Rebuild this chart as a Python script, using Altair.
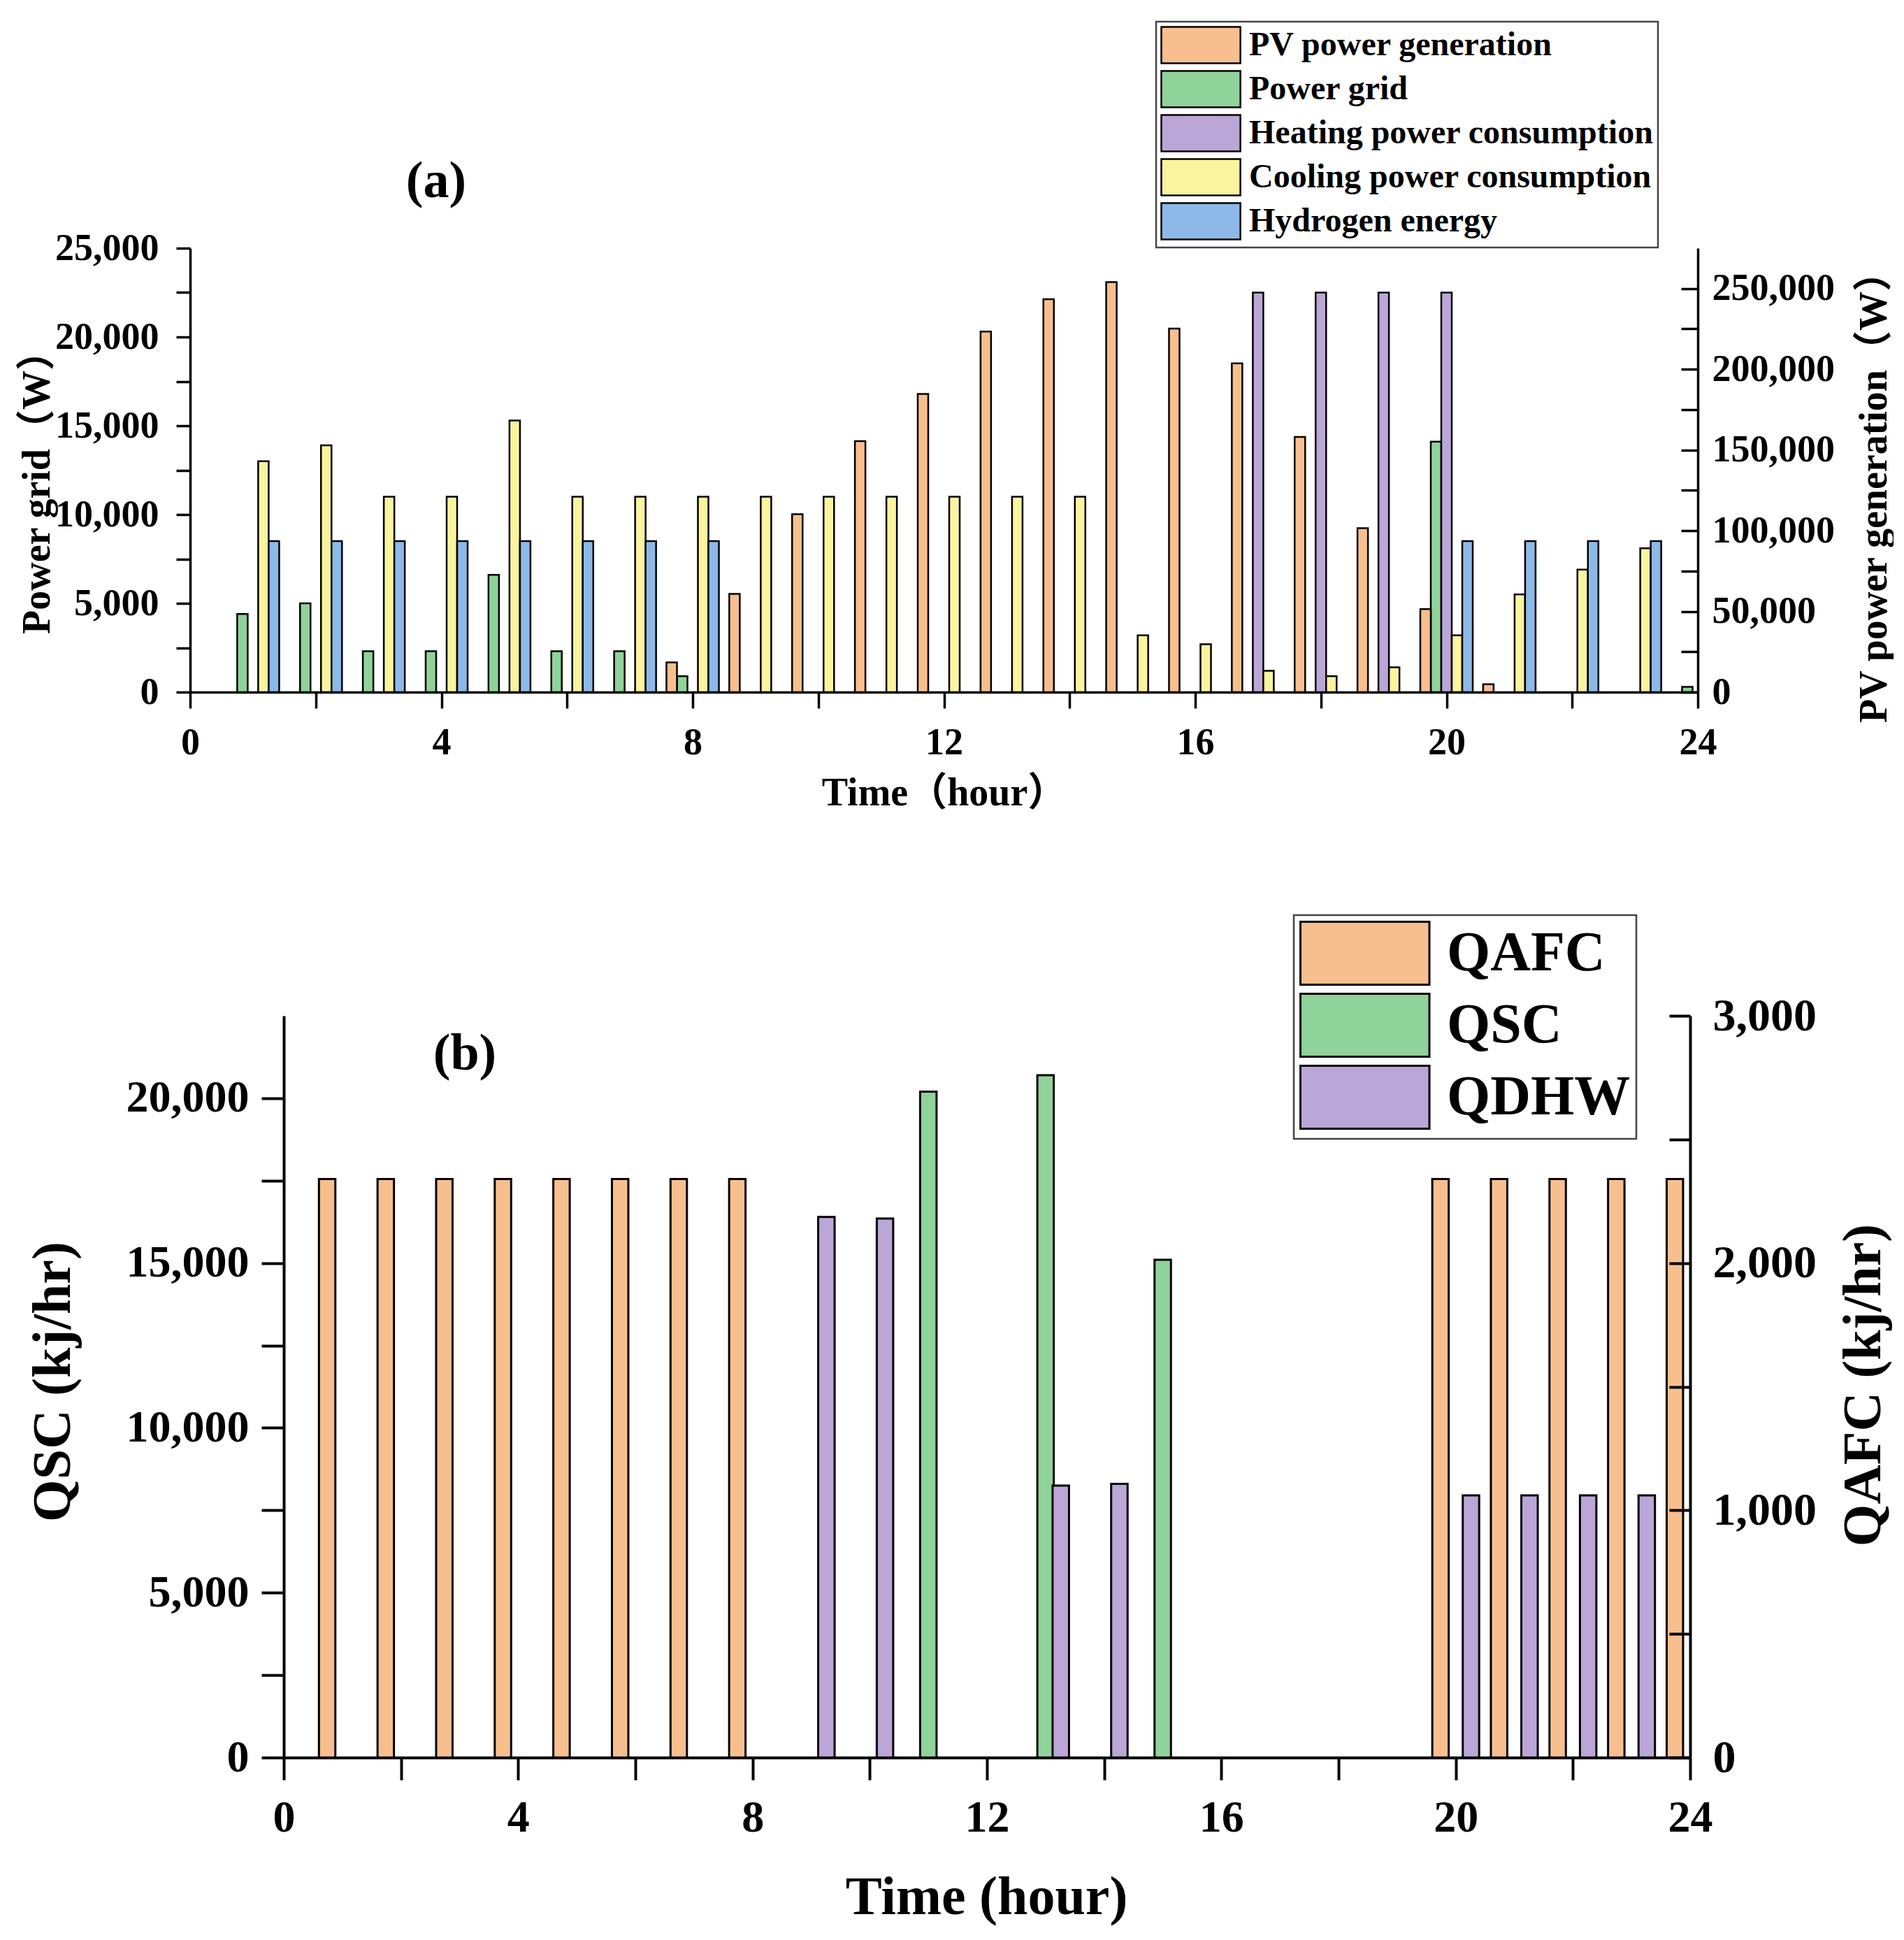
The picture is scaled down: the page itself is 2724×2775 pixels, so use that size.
import altair as alt
import pandas as pd

# ---------------- data ----------------
HOURS = list(range(1, 25))

SERIES_A = ["PV power generation", "Power grid", "Heating power consumption",
            "Cooling power consumption", "Hydrogen energy"]
COLORS_A = ["#F8BF8E", "#8FD39B", "#BBA7D7", "#F9F49D", "#8DB9E9"]

PV_POWER = [0, 0, 0, 0, 0, 0, 0, 18400, 60800, 110200, 155500, 184700,
            223400, 243400, 254000, 225200, 203700, 158100, 101600, 51400, 4900, 0, 0, 0]
POWER_GRID = [4400, 5000, 2300, 2300, 6600, 2300, 2300, 900, 0, 0, 0, 0,
              0, 0, 0, 0, 0, 0, 0, 14100, 0, 0, 0, 300]
HEATING = [0, 0, 0, 0, 0, 0, 0, 0, 0, 0, 0, 0,
           0, 0, 0, 0, 22500, 22500, 22500, 22500, 0, 0, 0, 0]
COOLING = [13000, 13900, 11000, 11000, 15300, 11000, 11000, 11000, 11000, 11000, 11000, 11000,
           11000, 11000, 3200, 2700, 1200, 900, 1400, 3200, 5500, 6900, 8100, 0]
HYDROGEN = [8500, 8500, 8500, 8500, 8500, 8500, 8500, 8500, 0, 0, 0, 0,
            0, 0, 0, 0, 0, 0, 0, 8500, 8500, 8500, 8500, 0]

SERIES_B = ["QAFC", "QSC", "QDHW"]
COLORS_B = ["#F8BF8E", "#8FD39B", "#BBA7D7"]

QAFC = [2340, 2340, 2340, 2340, 2340, 2340, 2340, 2340, 0, 0, 0, 0,
        0, 0, 0, 0, 0, 0, 0, 2340, 2340, 2340, 2340, 2340]
QSC = [0, 0, 0, 0, 0, 0, 0, 0, 0, 0, 20200, 0,
       20700, 0, 15100, 0, 0, 0, 0, 0, 0, 0, 0, 0]
QDHW = [0, 0, 0, 0, 0, 0, 0, 0, 16400, 16350, 0, 0,
        8250, 8300, 0, 0, 0, 0, 0, 7950, 7950, 7950, 7950, 0]

LABEL_A = ["(a)"]
LABEL_B = ["(b)"]

# ---------------- tables ----------------
def long_table(series_names, columns):
    rows = []
    for slot, (name, vals) in enumerate(zip(series_names, columns)):
        for h, v in zip(HOURS, vals):
            rows.append({"hour": h, "series": name, "value": v, "slot": slot})
    return pd.DataFrame(rows)

df_a = long_table(SERIES_A, [PV_POWER, POWER_GRID, HEATING, COOLING, HYDROGEN])
df_b = long_table(SERIES_B, [QAFC, QSC, QDHW])

FONT = "Liberation Serif, Noto Sans CJK SC, serif"


def x_axis(tick, lab_size, lab_pad, title, title_size, title_y, dw, title_x=None):
    kw = {}
    if title_x is not None:
        kw["titleX"] = title_x
    return alt.Axis(values=list(range(0, 25, 2)),
                    labelExpr="datum.value % 4 == 0 ? datum.label : ''",
                    tickSize=tick, tickWidth=dw, tickColor="black",
                    domainColor="black", domainWidth=dw,
                    labelFont=FONT, labelFontSize=lab_size, labelFontWeight="bold",
                    labelColor="black", labelPadding=lab_pad, labelOverlap=False,
                    labelFlush=False,
                    title=title, titleFont=FONT, titleFontSize=title_size,
                    titleFontWeight="bold", titleColor="black",
                    titleY=title_y, titleBaseline="middle", grid=False, **kw)


def fmt_expr(step):
    return f"datum.value % {step} == 0 ? format(datum.value, ',') : ''"

# ---------------- panel (a) ----------------
W_A = 0.167      # bar width in hours
WA_PX, HA_PX = 2157, 635

xs_a = alt.Scale(domain=[0, 24], nice=False, zero=False)

base_a = (alt.Chart(df_a)
          .transform_filter("datum.value > 0")
          .transform_calculate(x0=f"datum.hour + (datum.slot - 2) * {W_A} - {W_A / 2}",
                               x1=f"datum.hour + (datum.slot - 2) * {W_A} + {W_A / 2}"))

xa = alt.X("x0:Q", scale=xs_a, axis=x_axis(23, 54, 22, "Time（hour）", 56, 144, 3.5))

legend_a = alt.Legend(orient="none", legendX=1382, legendY=-324, direction="vertical",
                      title=None, symbolType="M-1,-1H3.35V1H-1Z", symbolSize=52 * 52,
                      symbolStrokeColor="black", symbolStrokeWidth=2.5, symbolOpacity=1,
                      labelFont=FONT, labelFontSize=48, labelFontWeight="bold",
                      labelColor="black", labelLimit=2000, labelOffset=72,
                      rowPadding=0, padding=6, strokeColor="#444", fillColor="white")
color_a = alt.Color("series:N", scale=alt.Scale(domain=SERIES_A, range=COLORS_A),
                    legend=legend_a)

left_axis_a = alt.Axis(orient="left", values=list(range(0, 25001, 2500)),
                       labelExpr=fmt_expr(5000),
                       tickSize=20, tickWidth=3.5, tickColor="black",
                       domainColor="black", domainWidth=3.5,
                       labelFont=FONT, labelFontSize=54, labelFontWeight="bold",
                       labelColor="black", labelPadding=25,
                       title="Power grid（W）", titleFont=FONT, titleFontSize=56,
                       titleFontWeight="bold", titleColor="black", titleAngle=270,
                       titleX=-219, titleY=335, titleAlign="center", titleBaseline="middle",
                       grid=False)
right_axis_a = alt.Axis(orient="right", values=list(range(0, 250001, 50000)),
                        labelExpr=fmt_expr(50000),
                        ticks=False, domainColor="black", domainWidth=3.5,
                        labelFont=FONT, labelFontSize=54, labelFontWeight="bold",
                        labelColor="black", labelPadding=20,
                        title="PV power generation（W）", titleFont=FONT, titleFontSize=56,
                        titleFontWeight="bold", titleColor="black", titleAngle=270,
                        titleX=252, titleY=342, titleAlign="center", titleBaseline="middle",
                        grid=False)
right_ticks_a = alt.Axis(orient="right", values=list(range(0, 250001, 25000)),
                         offset=-24, domain=False, labels=False, tickSize=24,
                         tickWidth=3.5, tickColor="black", title=None, grid=False, zindex=2)

ys_left_a = alt.Scale(domain=[0, 25000], nice=False)
ys_right_a = alt.Scale(domain=[0, 275000], nice=False)

left_a = (base_a.transform_filter(f"datum.series != '{SERIES_A[0]}'")
          .mark_bar(stroke="black", strokeWidth=2.5)
          .encode(x=xa, x2="x1:Q",
                  y=alt.Y("value:Q", scale=ys_left_a, axis=left_axis_a),
                  y2=alt.datum(0),
                  color=color_a))
pv_a = (base_a.transform_filter(f"datum.series == '{SERIES_A[0]}'")
        .mark_bar(stroke="black", strokeWidth=2.5)
        .encode(x=xa, x2="x1:Q",
                y=alt.Y("value:Q", scale=ys_right_a, axis=right_axis_a),
                y2=alt.datum(0),
                color=color_a))
ticks_a = (base_a.transform_filter(f"datum.series == '{SERIES_A[0]}'")
           .mark_point(opacity=0)
           .encode(x=xa, y=alt.Y("value:Q", scale=ys_right_a, axis=right_ticks_a)))
text_a = (alt.Chart(pd.DataFrame({"label": LABEL_A}))
          .mark_text(font=FONT, fontSize=74, fontWeight="bold", color="black",
                     baseline="middle", align="center")
          .encode(x=alt.value(352), y=alt.value(-95), text="label:N"))

panel_a = (alt.layer(left_a, pv_a, ticks_a, text_a)
           .resolve_scale(y="independent")
           .properties(width=WA_PX, height=HA_PX))

# ---------------- panel (b) ----------------
W_B = 0.28
STEP_B = 0.26
SHIFT_B = 134            # panel (b) plot starts further right than panel (a)
WB_PX, HB_PX = 2146, 1061

xs_b = alt.Scale(domain=[0, 24], nice=False, zero=False, range=[SHIFT_B, WB_PX])

base_b = (alt.Chart(df_b)
          .transform_filter("datum.value > 0")
          .transform_calculate(x0=f"datum.hour + (datum.slot - 1) * {STEP_B} - {W_B / 2}",
                               x1=f"datum.hour + (datum.slot - 1) * {STEP_B} + {W_B / 2}"))

xb = alt.X("x0:Q", scale=xs_b,
           axis=x_axis(32, 64, 22, "Time (hour)", 78, 200, 4, title_x=1139))

legend_b = alt.Legend(orient="none", legendX=1579, legendY=-144, direction="vertical",
                      title=None, symbolType="M-1,-1H3.1V1H-1Z", symbolSize=90 * 90,
                      symbolStrokeColor="black", symbolStrokeWidth=3, symbolOpacity=1,
                      labelFont=FONT, labelFontSize=80, labelFontWeight="bold",
                      labelColor="black", labelLimit=2000, labelOffset=118,
                      rowPadding=0, padding=8, strokeColor="#444", fillColor="white")
color_b = alt.Color("series:N", scale=alt.Scale(domain=SERIES_B, range=COLORS_B),
                    legend=legend_b)

left_axis_b = alt.Axis(orient="left", offset=-SHIFT_B, values=list(range(0, 20001, 2500)),
                       labelExpr=fmt_expr(5000),
                       tickSize=32, tickWidth=4, tickColor="black",
                       domainColor="black", domainWidth=4,
                       labelFont=FONT, labelFontSize=64, labelFontWeight="bold",
                       labelColor="black", labelPadding=18,
                       title="QSC (kj/hr)", titleFont=FONT, titleFontSize=78,
                       titleFontWeight="bold", titleColor="black", titleAngle=270,
                       titleX=-330, titleY=523, titleAlign="center", titleBaseline="middle",
                       grid=False)
right_axis_b = alt.Axis(orient="right", values=list(range(0, 3001, 1000)),
                        labelExpr=fmt_expr(1000),
                        ticks=False, domainColor="black", domainWidth=4,
                        labelFont=FONT, labelFontSize=66, labelFontWeight="bold",
                        labelColor="black", labelPadding=32,
                        title="QAFC (kj/hr)", titleFont=FONT, titleFontSize=78,
                        titleFontWeight="bold", titleColor="black", titleAngle=270,
                        titleX=248, titleY=528, titleAlign="center", titleBaseline="middle",
                        grid=False)
right_ticks_b = alt.Axis(orient="right", values=list(range(0, 3001, 500)),
                         offset=-30, domain=False, labels=False, tickSize=30,
                         tickWidth=4, tickColor="black", title=None, grid=False, zindex=2)

ys_left_b = alt.Scale(domain=[0, 22500], nice=False)
ys_right_b = alt.Scale(domain=[0, 3000], nice=False)

left_b = (base_b.transform_filter(f"datum.series != '{SERIES_B[0]}'")
          .mark_bar(stroke="black", strokeWidth=3)
          .encode(x=xb, x2="x1:Q",
                  y=alt.Y("value:Q", scale=ys_left_b, axis=left_axis_b),
                  y2=alt.datum(0),
                  color=color_b))
afc_b = (base_b.transform_filter(f"datum.series == '{SERIES_B[0]}'")
         .mark_bar(stroke="black", strokeWidth=3)
         .encode(x=xb, x2="x1:Q",
                 y=alt.Y("value:Q", scale=ys_right_b, axis=right_axis_b),
                 y2=alt.datum(0),
                 color=color_b))
ticks_b = (base_b.transform_filter(f"datum.series == '{SERIES_B[0]}'")
           .mark_point(opacity=0)
           .encode(x=xb, y=alt.Y("value:Q", scale=ys_right_b, axis=right_ticks_b)))
text_b = (alt.Chart(pd.DataFrame({"label": LABEL_B}))
          .mark_text(font=FONT, fontSize=74, fontWeight="bold", color="black",
                     baseline="middle", align="center")
          .encode(x=alt.value(393), y=alt.value(55), text="label:N"))

panel_b = (alt.layer(left_b, afc_b, ticks_b, text_b)
           .resolve_scale(y="independent")
           .properties(width=WB_PX, height=HB_PX))

chart = (alt.vconcat(panel_a, panel_b, spacing=145)
         .resolve_scale(color="independent")
         .properties(padding={"left": 17, "top": 21, "right": 0, "bottom": 5},
                     background="white")
         .configure_view(stroke=None)
         .configure_legend(strokeWidth=2.5))

chart.save("out.html", embed_options={"renderer": "svg", "actions": False})
